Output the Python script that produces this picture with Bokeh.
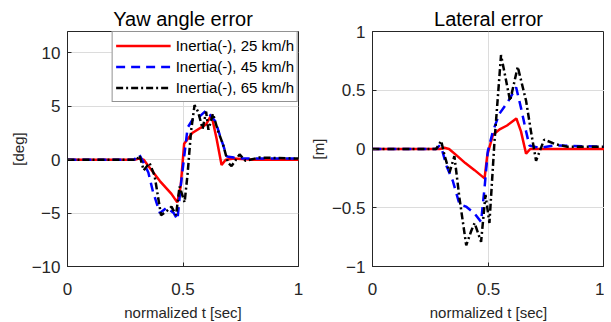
from bokeh.plotting import figure
from bokeh.layouts import row
from bokeh.models import Legend, LegendItem, FixedTicker, Range1d
from bokeh.embed import file_html
from bokeh.resources import INLINE

# ---- data: yaw angle error [deg] ----
yaw_t25 = [0, 0.29, 0.31, 0.33, 0.35, 0.40, 0.45, 0.475, 0.49, 0.505, 0.54, 0.60, 0.623, 0.645, 0.667, 0.685, 0.72, 0.8, 1.0]
yaw_v25 = [0, 0, 0.1, 0.0, -0.6, -2.0, -3.2, -4.0, -2.5, 1.5, 2.5, 3.3, 4.2, 2.0, -0.5, 0.0, 0.1, 0.0, 0.0]

yaw_t45 = [0, 0.29, 0.31, 0.33, 0.35, 0.37, 0.40, 0.43, 0.46, 0.476, 0.49, 0.52, 0.54, 0.57, 0.60, 0.64, 0.667, 0.69, 0.72, 0.76, 0.82, 1.0]
yaw_v45 = [0, 0, 0.5, -0.3, -1.2, -3.0, -5.0, -4.5, -5.0, -5.6, -2.5, 3.0, 3.7, 4.0, 4.6, 3.6, 1.8, 0.3, 0.2, 0.1, 0.1, 0.1]

yaw_t65 = [0, 0.30, 0.312, 0.33, 0.355, 0.377, 0.405, 0.43, 0.45, 0.47, 0.485, 0.507, 0.52, 0.535, 0.55, 0.565, 0.585, 0.60, 0.61, 0.63, 0.65, 0.675, 0.695, 0.71, 0.745, 0.77, 0.83, 1.0]
yaw_v65 = [0, 0, 0.4, -1.0, -0.3, -1.5, -5.2, -4.8, -4.4, -5.2, -2.5, -4.0, -1.3, 2.7, 5.1, 4.5, 2.9, 4.5, 2.8, 4.3, 2.8, 1.3, -0.3, -0.6, 0.5, -0.1, 0.2, 0.1]

# ---- data: lateral error [m] ----
lat_t25 = [0, 0.29, 0.31, 0.33, 0.36, 0.40, 0.44, 0.483, 0.495, 0.519, 0.55, 0.58, 0.62, 0.64, 0.662, 0.68, 0.75, 1.0]
lat_v25 = [0, 0, 0.01, 0.0, -0.05, -0.12, -0.18, -0.25, -0.05, 0.12, 0.17, 0.20, 0.26, 0.15, -0.04, 0.0, 0.0, 0.0]

lat_t45 = [0, 0.275, 0.289, 0.30, 0.32, 0.346, 0.375, 0.403, 0.44, 0.468, 0.483, 0.497, 0.519, 0.547, 0.583, 0.619, 0.64, 0.662, 0.676, 0.72, 0.78, 1.0]
lat_v45 = [0, 0, 0.03, -0.01, -0.15, -0.27, -0.47, -0.49, -0.55, -0.62, -0.33, -0.02, 0.15, 0.30, 0.40, 0.525, 0.35, 0.15, 0.03, 0.01, 0.03, 0.02]

lat_t65 = [0, 0.274, 0.296, 0.31, 0.332, 0.353, 0.375, 0.404, 0.425, 0.44, 0.468, 0.487, 0.504, 0.526, 0.554, 0.576, 0.593, 0.626, 0.662, 0.683, 0.705, 0.74, 0.79, 0.84, 1.0]
lat_v65 = [0, 0, 0.07, -0.05, -0.2, -0.06, -0.42, -0.82, -0.7, -0.63, -0.79, -0.39, -0.63, 0.07, 0.80, 0.58, 0.41, 0.70, 0.41, 0.15, -0.10, 0.08, 0.04, 0.02, 0.02]

x_ticks = [0, 0.5, 1]
yaw_ticks = [-10, -5, 0, 5, 10]
lat_ticks = [-1, -0.5, 0, 0.5, 1]
labels = ["Inertia(-), 25 km/h", "Inertia(-), 45 km/h", "Inertia(-), 65 km/h"]

FONT = "Liberation Sans"
styles = [
    dict(color="#ff0000", line_dash="solid"),
    dict(color="#0000ff", line_dash="9 6"),
    dict(color="#000000", line_dash="7 3 2 3"),
]


def make_fig(title, ylabel, yr, yticks, fw, left_border, right_border):
    p = figure(frame_width=fw, frame_height=235, x_range=Range1d(0, 1), y_range=yr,
               output_backend="svg", toolbar_location=None,
               min_border_left=left_border, min_border_right=right_border,
               min_border_top=31, min_border_bottom=54)
    p.title.text = title
    p.title.align = "center"
    p.title.text_font = FONT
    p.title.text_font_size = "20px"
    p.title.text_font_style = "normal"
    p.title.text_color = "#000000"
    p.title.standoff = 4
    p.outline_line_color = "#262626"
    p.outline_line_width = 1
    p.outline_line_alpha = 1
    for ax, ticks in ((p.xaxis[0], x_ticks), (p.yaxis[0], yticks)):
        ax.ticker = FixedTicker(ticks=ticks)
        ax.major_label_text_font = FONT
        ax.major_label_text_font_size = "17px"
        ax.major_label_text_color = "#262626"
        ax.axis_label_text_font = FONT
        ax.axis_label_text_font_size = "15px"
        ax.axis_label_text_font_style = "normal"
        ax.axis_label_text_color = "#262626"
        ax.axis_label_standoff = 2
        ax.major_tick_in = 4
        ax.major_tick_out = 0
        ax.minor_tick_line_color = None
        ax.axis_line_color = "#262626"
        ax.major_tick_line_color = "#262626"
    p.xaxis.major_label_standoff = 16
    p.xaxis.axis_label_standoff = 6
    p.yaxis.major_label_standoff = 7
    p.xaxis.axis_label = "normalized t [sec]"
    p.yaxis.axis_label = ylabel
    p.xgrid.ticker = FixedTicker(ticks=x_ticks)
    p.ygrid.ticker = FixedTicker(ticks=yticks)
    p.grid.grid_line_color = "#dcdcdc"
    p.grid.grid_line_alpha = 1
    return p


p1 = make_fig("Yaw angle error", "[deg]", Range1d(-10, 12), yaw_ticks, 231, 67, 6)
p2 = make_fig("Lateral error", "[m]", Range1d(-1, 1), lat_ticks, 232, 68, 0)

renderers = []
for (t, v), st in zip([(yaw_t25, yaw_v25), (yaw_t45, yaw_v45), (yaw_t65, yaw_v65)], styles):
    renderers.append(p1.line(t, v, line_width=2.5, **st))
for (t, v), st in zip([(lat_t25, lat_v25), (lat_t45, lat_v45), (lat_t65, lat_v65)], styles):
    p2.line(t, v, line_width=2.5, **st)

legend = Legend(items=[LegendItem(label=l, renderers=[r]) for l, r in zip(labels, renderers)],
                location="top_right", margin=0, padding=3, spacing=0,
                glyph_width=55, glyph_height=21, label_standoff=5,
                label_text_font=FONT, label_text_font_size="15px",
                label_text_color="#000000",
                border_line_color="#262626", border_line_width=1,
                background_fill_alpha=1)
p1.add_layout(legend)

layout = row(p1, p2)
open("out.html", "w").write(file_html(layout, INLINE))
